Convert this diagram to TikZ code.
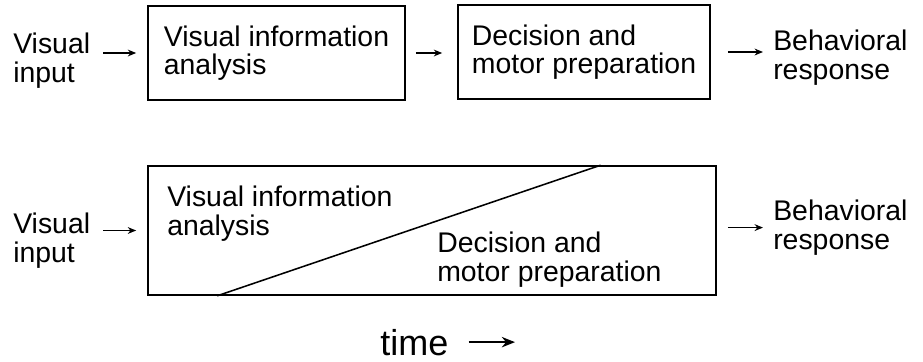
\documentclass[tikz,border=0pt]{standalone}
\usepackage{fontspec}
\setmainfont{Liberation Sans}
\usetikzlibrary{arrows.meta, calc, positioning}

\begin{document}
\begin{tikzpicture}[x=0.025cm, y=-0.025cm,
  stage/.style={rectangle, minimum width=6.4cm, minimum height=2.35cm, inner sep=0pt, align=left, draw=black, line width=1.1pt, font=\fontsize{20.2}{20}\selectfont},
  txt/.style={inner sep=0pt, anchor=base west, align=left, font=\fontsize{20.2}{20}\selectfont},
  overlap/.style={rectangle, minimum width=14.2cm, minimum height=3.225cm, draw=black, line width=1.1pt},
  arrow/.style={line width=1pt,->,>={Stealth[length=0.21cm, width=0.17cm]}}]

  \useasboundingbox (0,0) rectangle (923,362);

  % Nodes (serial model)
  \node (in1) [txt] at (13,82) {Visual\\input};
  \node (ana1) [stage, minimum width=6.425cm] at (276.5,53) {Visual information\\analysis};
  \node (dec1) [stage, minimum width=6.3cm] at (584,52) {Decision and\\motor preparation};
  \node (out1) [txt] at (773,79) {Behavioral\\response};

  % Nodes (overlapping model)
  \node (in2) [txt] at (13,262) {Visual\\input};
  \node (both) [overlap] at (432,230.5) {};
  \node (ana2) [txt] at (167,235) {Visual information\\analysis};
  \node (dec2) [txt] at (437,281) {Decision and\\motor preparation};
  \node (out2) [txt] at (773,249) {Behavioral\\response};
  \draw [line width=1.1pt] ($(both.south west)!0.123!(both.south east)$) -- ($(both.north west)!0.796!(both.north east)$);

  \node (time) [inner sep=0pt, anchor=base west, font=\fontsize{25.6}{26}\selectfont] at (380,355) {time};
  \coordinate (tend) at (515,345);

  % Arrows
  \draw [arrow, shorten <=0.325cm, shorten >=0.275cm] (in1.east |- ana1.west) -- (ana1.west);
  \draw [arrow, shorten <=0.25cm, shorten >=0.375cm] (ana1.east) -- (ana1.east -| dec1.west);
  \draw [arrow, shorten <=0.425cm, shorten >=0.25cm] (dec1.east) -- (dec1.east -| out1.west);

  \draw [arrow, shorten <=0.325cm, shorten >=0.275cm] (in2.east |- both.west) -- (both.west);
  \draw [arrow, shorten <=0.275cm, shorten >=0.25cm] (both.east |- out2.west) -- (out2.west);

  \draw [arrow, line width=1.4pt, >={Stealth[length=0.33cm, width=0.26cm]}, shorten <=0.5cm] (time.east) -- (time.east -| tend);
\end{tikzpicture}
\end{document}
